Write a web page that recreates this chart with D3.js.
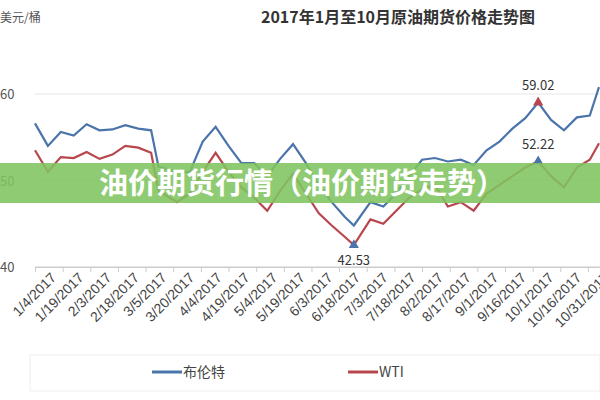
<!DOCTYPE html>
<html><head><meta charset="utf-8">
<script src="https://cdn.jsdelivr.net/npm/d3@7"></script>
<style>body{margin:0;background:#fff}svg{font-family:"Noto Sans CJK SC","Noto Sans",sans-serif}</style>
</head><body><svg></svg>
<script>
let dates = ['2017-01-04','2017-01-11','2017-01-18','2017-01-25','2017-02-01','2017-02-08','2017-02-15','2017-02-22','2017-03-01','2017-03-08','2017-03-12','2017-03-22','2017-03-29','2017-04-05','2017-04-12','2017-04-19','2017-04-26','2017-05-03','2017-05-10','2017-05-17','2017-05-24','2017-05-31','2017-06-07','2017-06-14','2017-06-21','2017-06-26','2017-07-05','2017-07-12','2017-07-19','2017-07-26','2017-08-02','2017-08-09','2017-08-16','2017-08-23','2017-08-30','2017-09-06','2017-09-13','2017-09-20','2017-09-27','2017-10-04','2017-10-11','2017-10-18','2017-10-25','2017-11-01','2017-11-06']
let brent = [56.6,54.0,55.6,55.2,56.5,55.8,55.9,56.4,56.0,55.8,51.6,51.0,51.0,54.5,56.2,54.0,52.0,52.0,50.5,52.5,54.2,52.0,49.5,47.5,45.8,44.8,47.5,47.0,48.5,50.5,52.4,52.6,52.2,52.4,51.8,53.5,54.5,56.0,57.2,59.02,57.0,55.8,57.3,57.5,60.8]
let wti = [53.5,51.0,52.7,52.6,53.3,52.5,53.0,54.0,53.8,53.2,48.8,47.5,48.5,51.0,53.2,51.0,49.2,48.0,46.5,48.8,50.8,48.5,46.2,44.8,43.5,42.53,45.5,45.0,46.5,48.0,49.0,49.5,47.0,47.5,46.5,48.5,49.5,50.5,51.5,52.22,50.5,49.2,51.5,52.4,54.3]
let tickDates = ['2017-01-04','2017-01-19','2017-02-03','2017-02-18','2017-03-05','2017-03-20','2017-04-04','2017-04-19','2017-05-04','2017-05-19','2017-06-03','2017-06-18','2017-07-03','2017-07-18','2017-08-02','2017-08-17','2017-09-01','2017-09-16','2017-10-01','2017-10-16','2017-10-31']
let yTicks = [40, 50, 60]

let width = 600, height = 400
let svg = d3.select('svg').attr('width', width).attr('height', height)
let parse = d3.timeParse('%Y-%m-%d')
let fmt = d3.timeFormat('%-m/%-d/%Y')

let xScale = d3.scaleTime().domain([parse('2017-01-04'), parse('2017-11-06')]).range([35, 599])
let yScale = d3.scaleLinear().domain([40, 60]).range([267, 94])

// title
svg.append('text').attr('x', 398).attr('y', 23).attr('text-anchor', 'middle')
  .attr('font-size', 16).attr('font-weight', 'bold').attr('fill', '#333')
  .text('2017年1月至10月原油期货价格走势图')
svg.append('text').attr('x', 0).attr('y', 22).attr('font-size', 12).attr('fill', '#555').text('美元/桶')

// grid + y labels
svg.selectAll('.grid').data(yTicks).enter().append('line')
  .attr('x1', 35).attr('x2', 600).attr('y1', d => yScale(d)).attr('y2', d => yScale(d))
  .attr('stroke', d => d === 40 ? '#ccc' : '#e6e6e6')
svg.selectAll('.ylab').data(yTicks).enter().append('text')
  .attr('x', 0).attr('y', d => yScale(d) + 5).attr('font-size', 13).attr('fill', '#555').text(d => d)

// x axis
let xAxis = d3.axisBottom(xScale).tickValues(tickDates.map(parse)).tickFormat(fmt).tickSize(5).tickSizeOuter(0)
let gx = svg.append('g').attr('transform', 'translate(0,267)').call(xAxis)
gx.select('.domain').attr('stroke', '#ccc')
gx.selectAll('line').attr('stroke', '#ccc')
gx.selectAll('text').attr('font-size', 14).attr('fill', '#444')
  .attr('text-anchor', 'end').attr('dx', '0.5em').attr('dy', '1.1em')
  .attr('transform', 'rotate(-45)')

let line = d3.line().x(d => xScale(parse(d[0]))).y(d => yScale(d[1]))
let series = [[brent, '#4a74aa'], [wti, '#b8474d']]
series.forEach(([vals, col]) => {
  svg.append('path').datum(dates.map((d, i) => [d, vals[i]]))
    .attr('d', line).attr('fill', 'none').attr('stroke', col).attr('stroke-width', 2.2)
})

// annotations
let tri = d3.symbol().type(d3.symbolTriangle).size(45)
let notes = [
  ['2017-10-04', 59.02, '#b8474d', -12],
  ['2017-10-04', 52.22, '#4a74aa', -12],
  ['2017-06-26', 42.53, '#4a74aa', 20]
]
notes.forEach(([d, v, c, dy]) => {
  let x = xScale(parse(d)), y = yScale(v)
  svg.append('path').attr('d', tri).attr('transform', `translate(${x},${y})`).attr('fill', c)
  svg.append('text').attr('x', x).attr('y', y + dy).attr('text-anchor', 'middle')
    .attr('font-size', 13).attr('fill', '#333').text(v.toFixed(2))
})

// legend
svg.append('rect').attr('x', 30).attr('y', 355).attr('width', 570).attr('height', 36)
  .attr('fill', 'none').attr('stroke', '#eee')
let legend = [['布伦特', '#4a74aa', 152], ['WTI', '#b8474d', 348]]
legend.forEach(([name, c, x]) => {
  svg.append('line').attr('x1', x).attr('x2', x + 30).attr('y1', 372).attr('y2', 372).attr('stroke', c).attr('stroke-width', 3)
  svg.append('text').attr('x', x + 31).attr('y', 377).attr('font-size', 14).attr('fill', '#444').text(name)
})

// overlay banner
svg.append('rect').attr('x', 0).attr('y', 163).attr('width', 600).attr('height', 40)
  .attr('fill', '#80c45f').attr('opacity', 0.88)
svg.append('text').attr('x', 302).attr('y', 194).attr('text-anchor', 'middle')
  .attr('font-size', 29).attr('font-weight', 'bold').attr('fill', '#fff')
  .text('油价期货行情（油价期货走势）')
</script></body></html>
